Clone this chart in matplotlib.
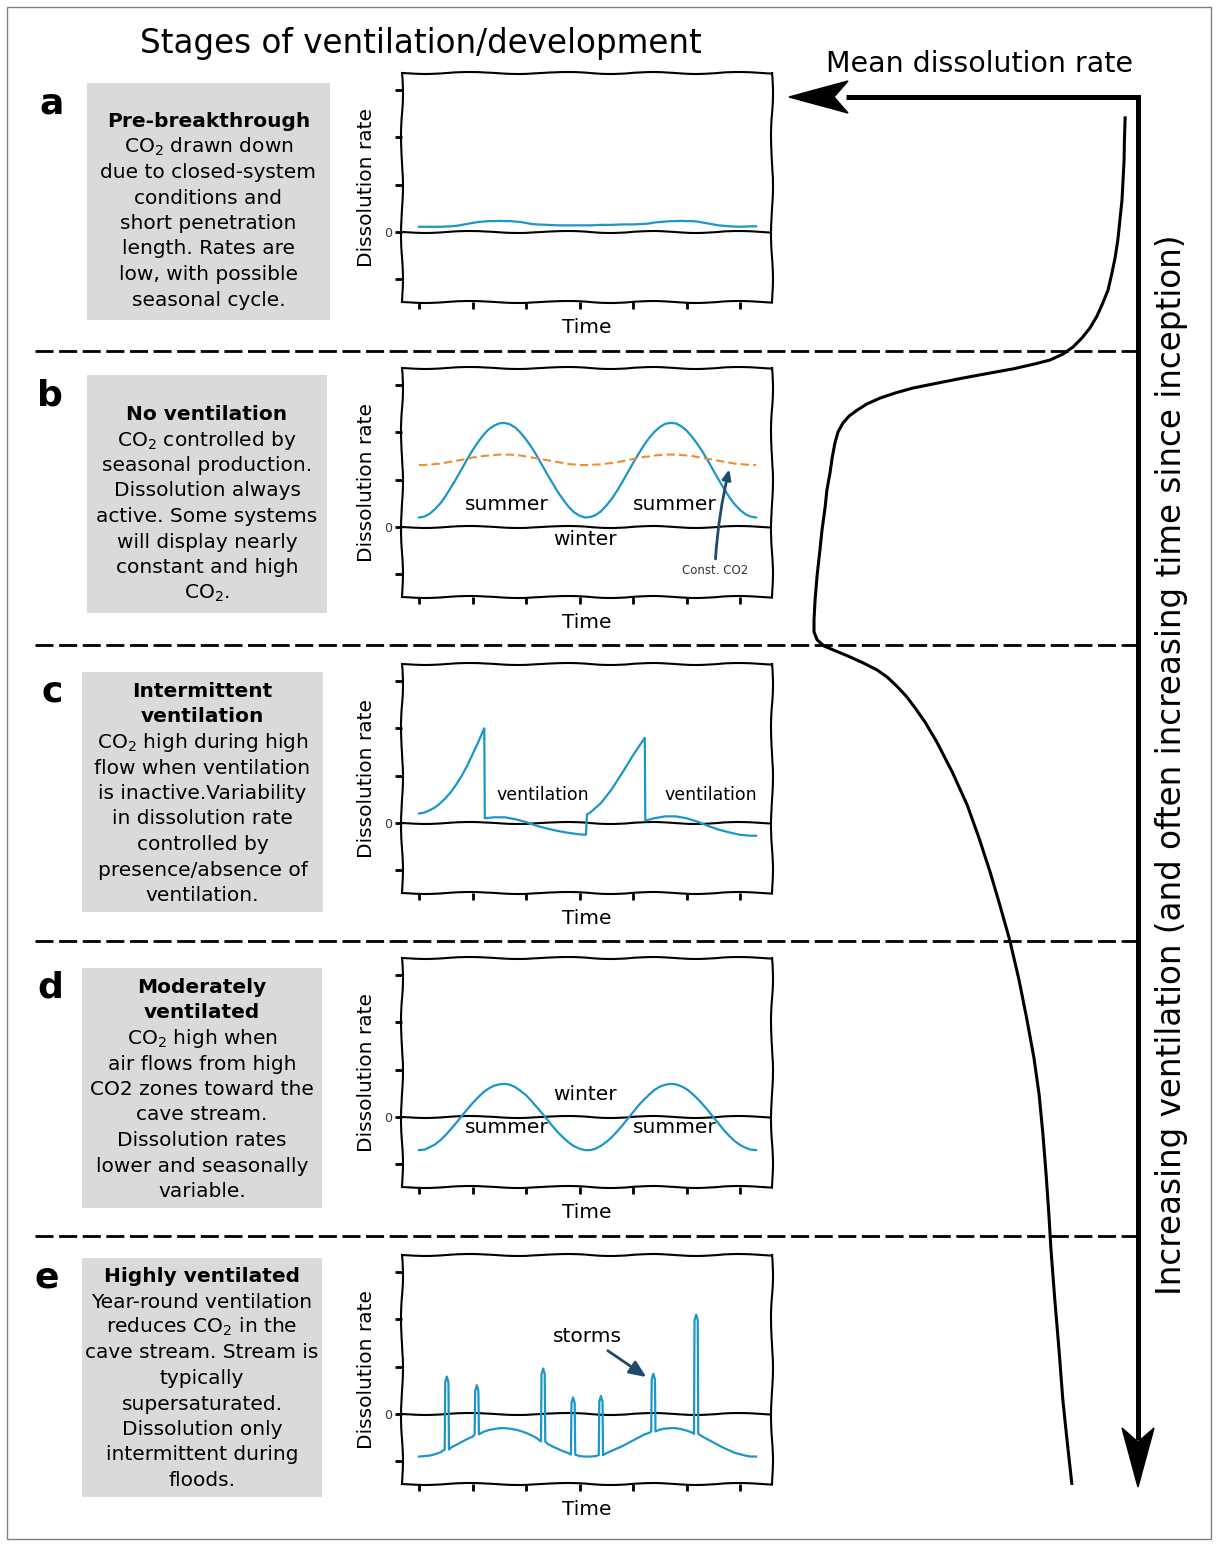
import numpy as np
import matplotlib
matplotlib.use("Agg")
import matplotlib.pyplot as plt
from matplotlib.patches import Rectangle, Polygon

W, H = 1217, 1546
BLUE = "#1b96c8"
ORANGE = "#f28a2e"
NAVY = "#1f4a6e"
BOX = "#dadada"

# sampling times shared by the seasonal series (0 .. 6.3)
t = [round(0.1 * i, 1) for i in range(64)]

rate_a = [0.11, 0.11, 0.11, 0.11, 0.11, 0.115, 0.12, 0.13, 0.15, 0.17, 0.19,
          0.21, 0.22, 0.23, 0.23, 0.235, 0.23, 0.23, 0.22, 0.21, 0.19, 0.17,
          0.16, 0.155, 0.15, 0.145, 0.14, 0.14, 0.14, 0.14, 0.14, 0.14, 0.14,
          0.145, 0.15, 0.15, 0.15, 0.155, 0.16, 0.16, 0.16, 0.165, 0.17, 0.18,
          0.20, 0.21, 0.22, 0.23, 0.23, 0.235, 0.23, 0.23, 0.22, 0.20, 0.18,
          0.16, 0.14, 0.13, 0.12, 0.115, 0.11, 0.115, 0.12, 0.12]

rate_b = [0.20, 0.22, 0.28, 0.38, 0.50, 0.66, 0.84, 1.03, 1.23, 1.43, 1.62,
          1.79, 1.94, 2.06, 2.14, 2.19, 2.20, 2.17, 2.10, 1.99, 1.85, 1.69,
          1.51, 1.31, 1.11, 0.92, 0.73, 0.57, 0.42, 0.31, 0.24, 0.20, 0.21,
          0.25, 0.33, 0.45, 0.59, 0.76, 0.95, 1.15, 1.35, 1.54, 1.72, 1.88,
          2.01, 2.11, 2.18, 2.20, 2.19, 2.13, 2.04, 1.91, 1.76, 1.59, 1.40,
          1.20, 1.00, 0.81, 0.63, 0.48, 0.36, 0.27, 0.22, 0.20]
const_co2_b = [1.31, 1.31, 1.32, 1.33, 1.34, 1.36, 1.38, 1.40, 1.42, 1.44,
               1.47, 1.48, 1.50, 1.51, 1.52, 1.53, 1.53, 1.53, 1.52, 1.51,
               1.49, 1.47, 1.45, 1.43, 1.41, 1.39, 1.37, 1.35, 1.33, 1.32,
               1.31, 1.31, 1.31, 1.32, 1.32, 1.34, 1.35, 1.37, 1.39, 1.41,
               1.44, 1.46, 1.48, 1.49, 1.51, 1.52, 1.53, 1.53, 1.53, 1.52,
               1.51, 1.50, 1.48, 1.46, 1.44, 1.42, 1.40, 1.38, 1.36, 1.34,
               1.33, 1.32, 1.31, 1.31]

# intermittent ventilation: sawtooth with sudden drops
time_c = [0.0, 0.1, 0.2, 0.3, 0.4, 0.5, 0.6, 0.7, 0.8, 0.9, 1.0, 1.1, 1.2,
          1.22, 1.23, 1.4, 1.6, 1.8, 2.0, 2.2, 2.4, 2.6, 2.8, 3.0, 3.12, 3.14,
          3.2, 3.4, 3.6, 3.8, 4.0, 4.1, 4.22, 4.23, 4.4, 4.6, 4.8, 5.0, 5.2,
          5.4, 5.6, 5.8, 6.0, 6.2, 6.3]
rate_c = [0.20, 0.22, 0.27, 0.33, 0.42, 0.53, 0.66, 0.82, 1.00, 1.21, 1.45,
          1.69, 1.95, 2.00, 0.10, 0.12, 0.12, 0.08, 0.02, -0.06, -0.12, -0.17,
          -0.21, -0.24, -0.25, 0.18, 0.22, 0.42, 0.71, 1.06, 1.43, 1.60, 1.80,
          0.05, 0.10, 0.14, 0.14, 0.10, 0.03, -0.06, -0.14, -0.20, -0.25,
          -0.27, -0.27]

rate_d = [-0.70, -0.69, -0.64, -0.58, -0.49, -0.38, -0.25, -0.12, 0.02, 0.16,
          0.29, 0.41, 0.52, 0.60, 0.66, 0.69, 0.70, 0.68, 0.63, 0.55, 0.46,
          0.34, 0.21, 0.08, -0.06, -0.20, -0.33, -0.44, -0.54, -0.62, -0.67,
          -0.70, -0.70, -0.67, -0.61, -0.53, -0.43, -0.31, -0.18, -0.04, 0.10,
          0.24, 0.36, 0.47, 0.57, 0.64, 0.68, 0.70, 0.69, 0.65, 0.59, 0.50,
          0.39, 0.27, 0.14, 0.00, -0.14, -0.28, -0.40, -0.51, -0.59, -0.65,
          -0.69, -0.70]

base_e = [-0.90, -0.89, -0.88, -0.85, -0.81, -0.76, -0.71, -0.65, -0.59, -0.53,
          -0.48, -0.42, -0.38, -0.34, -0.32, -0.30, -0.30, -0.31, -0.33, -0.36,
          -0.40, -0.45, -0.51, -0.57, -0.63, -0.69, -0.74, -0.79, -0.83, -0.87,
          -0.89, -0.90, -0.90, -0.89, -0.86, -0.83, -0.78, -0.73, -0.68, -0.62,
          -0.56, -0.50, -0.44, -0.40, -0.36, -0.33, -0.31, -0.30, -0.30, -0.32,
          -0.35, -0.39, -0.43, -0.48, -0.54, -0.60, -0.66, -0.72, -0.77, -0.82,
          -0.85, -0.88, -0.90, -0.90]
storm_t = [0.52, 1.08, 2.32, 2.88, 3.40, 4.38, 5.18]
storm_peak = [0.79, 0.61, 0.96, 0.35, 0.38, 0.85, 2.10]
storm_foot = [-0.75, -0.43, -0.58, -0.86, -0.87, -0.37, -0.42]

# mean dissolution rate through the stages (stage axis runs downwards)
mean_rate = [0.037, 0.039, 0.040, 0.043, 0.046, 0.052, 0.058, 0.066, 0.075,
             0.086, 0.101, 0.118, 0.138, 0.161, 0.187, 0.216, 0.253, 0.296,
             0.359, 0.425, 0.503, 0.575, 0.647, 0.698, 0.741, 0.779, 0.807,
             0.830, 0.848, 0.862, 0.871, 0.879, 0.885, 0.894, 0.899, 0.908,
             0.914, 0.922, 0.928, 0.931, 0.931, 0.922, 0.902, 0.876, 0.833,
             0.790, 0.750, 0.721, 0.693, 0.664, 0.638, 0.612, 0.578, 0.534,
             0.491, 0.457, 0.425, 0.397, 0.368, 0.342, 0.319, 0.299, 0.284,
             0.273, 0.264, 0.256, 0.250, 0.239, 0.227, 0.216, 0.204, 0.190]
mean_stage = [0.210, 0.285, 0.353, 0.421, 0.489, 0.557, 0.625, 0.686, 0.737,
              0.794, 0.838, 0.883, 0.923, 0.957, 0.988, 1.012, 1.032, 1.045,
              1.062, 1.076, 1.093, 1.110, 1.127, 1.144, 1.161, 1.181, 1.202,
              1.222, 1.246, 1.276, 1.314, 1.365, 1.415, 1.473, 1.531, 1.609,
              1.677, 1.762, 1.847, 1.914, 1.955, 1.982, 2.003, 2.016, 2.037,
              2.060, 2.084, 2.108, 2.139, 2.176, 2.217, 2.261, 2.329, 2.430,
              2.542, 2.654, 2.770, 2.882, 3.004, 3.136, 3.272, 3.401, 3.527,
              3.663, 3.798, 3.934, 4.053, 4.223, 4.392, 4.562, 4.698, 4.848]

letters = ["a", "b", "c", "d", "e"]
headers = [["Pre-breakthrough"], ["No ventilation"],
           ["Intermittent", "ventilation"], ["Moderately", "ventilated"],
           ["Highly ventilated"]]
bodies = [
    ["CO$_2$ drawn down", "due to closed-system", "conditions and",
     "short penetration", "length. Rates are", "low, with possible",
     "seasonal cycle."],
    ["CO$_2$ controlled by", "seasonal production.", "Dissolution always",
     "active. Some systems", "will display nearly", "constant and high",
     "CO$_2$."],
    ["CO$_2$ high during high", "flow when ventilation",
     "is inactive.Variability", "in dissolution rate", "controlled by",
     "presence/absence of", "ventilation."],
    ["CO$_2$ high when", "air flows from high", "CO2 zones toward the",
     "cave stream.", "Dissolution rates", "lower and seasonally", "variable."],
    ["Year-round ventilation", "reduces CO$_2$ in the",
     "cave stream. Stream is", "typically", "supersaturated.",
     "Dissolution only", "intermittent during", "floods."],
]

# layout in pixels
box_rects = [(87, 83, 330, 320), (87, 375, 327, 613), (82, 672, 323, 912),
             (82, 968, 322, 1208), (82, 1258, 322, 1497)]
first_line = [120, 413, 690, 986, 1275]
letter_pos = [(52, 103), (50, 395), (52, 692), (50, 988), (47, 1278)]
panel_tops = [73, 368, 664, 958, 1255]
LINE = 25.5

fig = plt.figure(figsize=(W / 100, H / 100), dpi=100)


def px_axes(l, t_, r, b):
    return fig.add_axes([l / W, 1 - b / H, (r - l) / W, (b - t_) / H])


bg = px_axes(0, 0, W, H)
bg.set_xlim(0, W)
bg.set_ylim(H, 0)
bg.axis("off")

bg.add_patch(Rectangle((7, 7), 1204, 1532, facecolor="none",
                       edgecolor="#808080", lw=1))

bg.text(421, 53, "Stages of ventilation/development", ha="center",
        va="baseline", fontsize=23.5)
bg.text(980, 72, "Mean dissolution rate", ha="center", va="baseline",
        fontsize=20.5)
bg.text(1171, 765,
        "Increasing ventilation (and often increasing time since inception)",
        rotation=90, ha="center", va="center", fontsize=23.5)

# stage separators
bg.hlines([351, 645, 941, 1236], 35, 1138, colors="black", lw=2,
          linestyles=(0, (6.5, 2)))

# L-shaped axis arrow
bg.plot([846, 1138, 1138], [97, 97, 1440], color="black", lw=3.6,
        solid_joinstyle="miter", solid_capstyle="butt")
bg.add_patch(Polygon([(789, 97), (848, 81), (834, 97), (848, 113)],
                     closed=True, color="black"))
bg.add_patch(Polygon([(1138, 1487), (1122, 1428), (1138, 1442), (1154, 1428)],
                     closed=True, color="black"))

for k in range(5):
    l, tp, r, b = box_rects[k]
    bg.add_patch(Rectangle((l, tp), r - l, b - tp, facecolor=BOX,
                           edgecolor="none"))
    cx = (l + r) / 2
    for j, line in enumerate(headers[k] + bodies[k]):
        bold = j < len(headers[k])
        bg.text(cx, first_line[k] + 7 + j * LINE, line, ha="center",
                va="baseline", fontsize=14.5,
                fontweight="bold" if bold else "normal")
    lx, ly = letter_pos[k]
    bg.text(lx, ly, letters[k], ha="center", va="center", fontsize=26,
            fontweight="bold")

# mean dissolution curve
axm = px_axes(790, 97, 1138, 1485)
axm.set_xlim(1, 0)
axm.set_ylim(4.851, 0.139)
axm.axis("off")
axm.plot(mean_rate, mean_stage, color="black", lw=2.2,
         solid_joinstyle="round")

# stage panels
axes = [px_axes(402, top, 772, top + 229) for top in panel_tops]
for ax in axes:
    ax.set_xlim(-0.318, 6.598)
    ax.set_ylim(-1.48, 3.36)
    ax.set_xticks(range(7))
    ax.set_xticklabels([])
    ax.set_yticks([-1, 0, 1, 2, 3])
    ax.set_yticklabels(["", "0", "", "", ""], fontsize=9, color="#333333")
    ax.tick_params(direction="out", length=5, width=2, color="black", pad=2)
    ax.set_xlabel("Time", fontsize=14.5)
    ax.set_ylabel("Dissolution rate", fontsize=14.5)
    ax.xaxis.set_label_coords(0.5, -0.07)
    ax.yaxis.set_label_coords(-0.07, 0.5)
    ax.xaxis.label.set_va("top")
    for sp in ax.spines.values():
        sp.set_linewidth(1.5)
        sp.set_sketch_params(1, 100, 2)
    zl = ax.axhline(0, color="black", lw=1.5, zorder=1)
    zl.set_sketch_params(1, 100, 2)

ax_a, ax_b, ax_c, ax_d, ax_e = axes

ax_a.plot(t, rate_a, color=BLUE, lw=1.6)

ax_b.plot(t, rate_b, color=BLUE, lw=1.6)
ax_b.plot(t, const_co2_b, color=ORANGE, lw=1.5, ls=(0, (4, 2)))
for x, y, s in [(1.64, 0.48, "summer"), (4.78, 0.48, "summer"),
                (3.1, -0.27, "winter")]:
    ax_b.text(x, y, s, ha="center", va="center", fontsize=14.5)
ax_b.annotate("Const. CO2", xy=(5.8, 1.22), xytext=(5.53, -0.93),
              fontsize=8.5, color="#333333", ha="center", va="center",
              arrowprops=dict(arrowstyle="-|>,head_length=0.7,head_width=0.3",
                              color=NAVY, lw=2, shrinkA=2, shrinkB=0,
                              connectionstyle="arc3,rad=-0.05"))

ax_c.plot(time_c, rate_c, color=BLUE, lw=1.6)
for x in (2.32, 5.46):
    ax_c.text(x, 0.6, "ventilation", ha="center", va="center", fontsize=12.5)

ax_d.plot(t, rate_d, color=BLUE, lw=1.6)
ax_d.text(3.1, 0.48, "winter", ha="center", va="center", fontsize=14.5)
for x in (1.64, 4.78):
    ax_d.text(x, -0.23, "summer", ha="center", va="center", fontsize=14.5)

# storm pulses on top of the supersaturated baseline
pts = [(ti, bi) for ti, bi in zip(t, base_e)
       if min(abs(ti - s) for s in storm_t) > 0.045]
for s, p, f in zip(storm_t, storm_peak, storm_foot):
    pts += [(s - 0.04, f), (s - 0.03, p - 0.12), (s, p),
            (s + 0.03, p - 0.12), (s + 0.04, f)]
pts.sort()
ax_e.plot([q[0] for q in pts], [q[1] for q in pts], color=BLUE, lw=1.6)
ax_e.annotate("storms", xy=(4.25, 0.78), xytext=(3.15, 1.63),
              fontsize=14.5, ha="center", va="center",
              arrowprops=dict(arrowstyle="-|>,head_length=0.7,head_width=0.3",
                              color=NAVY, lw=2, shrinkA=2, shrinkB=0))

fig.savefig("out.png", dpi=100, facecolor="white")
